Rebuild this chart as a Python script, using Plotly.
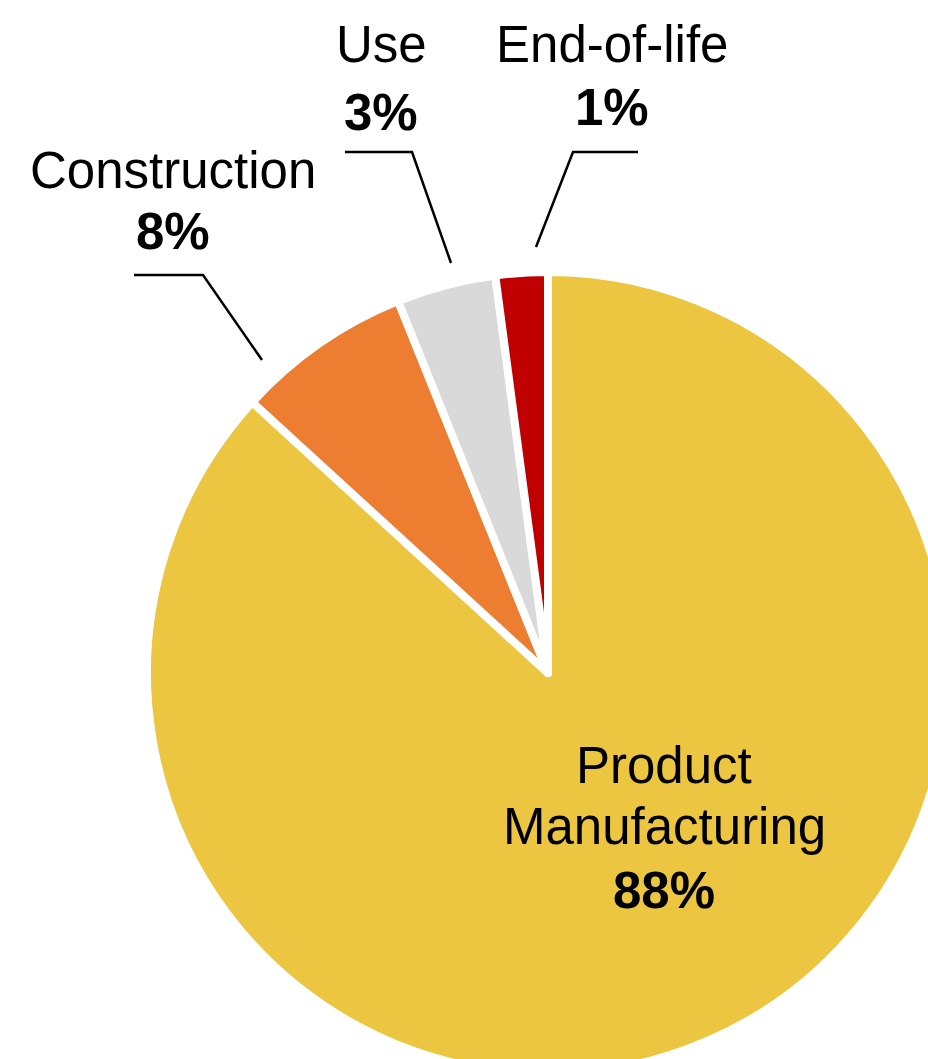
import plotly.graph_objects as go

# ---- data ----
categories = ["Product Manufacturing", "Construction", "Use", "End-of-life"]
shares = [86.8, 7.1, 4.0, 2.1]          # slice sizes as drawn
label_pct = ["88%", "8%", "3%", "1%"]   # printed percentages
name_lines = [["Product", "Manufacturing"], ["Construction"], ["Use"], ["End-of-life"]]
colors = ["#ECC640", "#ED7D31", "#D9D9D9", "#C00000"]

# ---- layout geometry (pixels) ----
W, H = 960, 1080
cx, cy, r = 548, 673, 401

def px(x):
    return x / W

def py(y):
    return 1 - y / H

fig = go.Figure(go.Pie(
    labels=categories,
    values=shares,
    sort=False,
    direction="clockwise",
    rotation=0,
    marker=dict(colors=colors, line=dict(color="white", width=8)),
    textinfo="none",
    hoverinfo="skip",
    showlegend=False,
    domain=dict(x=[px(cx - r), px(cx + r)], y=[py(cy + r), py(cy - r)]),
))

# label positions: (center x, [name line y...], pct y)
label_pos = [
    (664, [765, 826], 890),
    (173, [170], 232),
    (381, [45], 112),
    (612, [44], 107),
]
FONT = "Liberation Sans, Arial, sans-serif"
annotations = []
for i, (lx, ys, pyy) in enumerate(label_pos):
    for t, yy in zip(name_lines[i], ys):
        annotations.append(dict(x=px(lx), y=py(yy), xref="paper", yref="paper",
                                text=t, showarrow=False, xanchor="center", yanchor="middle",
                                font=dict(family=FONT, size=51, color="black")))
    annotations.append(dict(x=px(lx), y=py(pyy), xref="paper", yref="paper",
                            text="<b>" + label_pct[i] + "</b>", showarrow=False,
                            xanchor="center", yanchor="middle",
                            font=dict(family=FONT, size=51, color="black")))

# leader lines (pixel polylines)
leaders = [
    [(134, 275), (203, 275), (262, 360)],
    [(345, 152), (412, 152), (451, 263)],
    [(638, 152), (573, 152), (536, 247)],
]
shapes = []
for pts in leaders:
    path = "M " + " L ".join(f"{px(x)},{py(y)}" for x, y in pts)
    shapes.append(dict(type="path", path=path, xref="paper", yref="paper",
                       line=dict(color="black", width=2.5)))

fig.update_layout(
    width=W, height=H,
    margin=dict(l=0, r=0, t=0, b=0),
    paper_bgcolor="white", plot_bgcolor="white",
    annotations=annotations, shapes=shapes,
)

fig.write_html("out.html",
               post_script="document.body.style.margin='0';document.body.style.overflow='hidden';document.documentElement.style.overflow='hidden';")
